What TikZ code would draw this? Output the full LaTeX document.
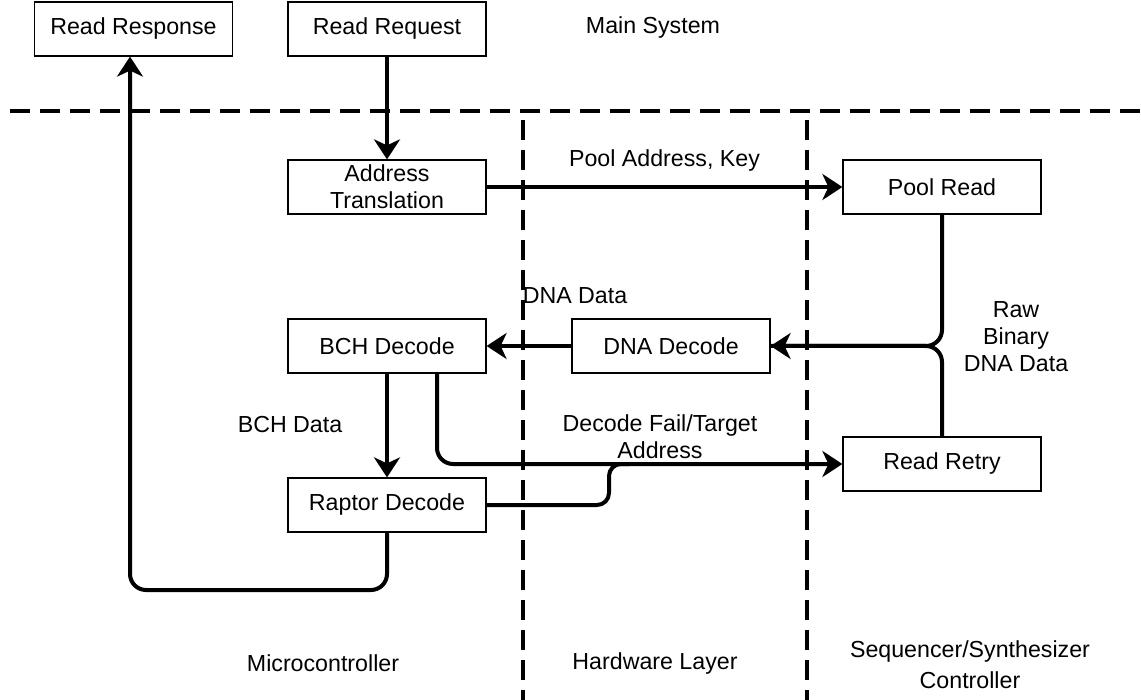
\documentclass[tikz,border=0pt]{standalone}
\usepackage{fontspec}
\setmainfont{Liberation Sans}
\usetikzlibrary{arrows.meta}

\begin{document}
\begin{tikzpicture}[x=0.5pt, y=-0.5pt,
		font=\fontsize{11.6}{13.5}\selectfont,
		box/.style={draw, line width=0.6pt, minimum width=99pt, minimum height=27pt, align=center, inner sep=1pt},
		arr/.style={line width=2pt, -{Stealth[length=10pt, width=13pt, inset=3pt]}},
		wire/.style={line width=2pt},
		sep/.style={line width=2pt, dash pattern=on 10pt off 5pt},
		lbl/.style={align=center, inner sep=0pt}]
		\useasboundingbox (0,0) rectangle (1141,700);
		% layer borders
		\draw[sep] (10,111) -- (1141,111);
		\draw[sep] (523,120) -- (523,700);
		\draw[sep] (807,120) -- (807,700);
		% boxes
		\node[box] (resp) at (133.5,29) {Read Response};
		\node[box] (req) at (387,29) {Read Request};
		\node[box] (addr) at (387,187) {Address\\Translation};
		\node[box] (pool) at (942,187) {Pool Read};
		\node[box] (bch) at (387,346) {BCH Decode};
		\node[box] (dna) at (671,346) {DNA Decode};
		\node[box] (raptor) at (387,505) {Raptor Decode};
		\node[box] (retry) at (942,464) {Read Retry};
		% texts
		\node[lbl] (sys) at (653,28) {Main System};
		\node[lbl] (mcu) at (323,663) {Microcontroller};
		\node[lbl] (hw) at (655,663) {Hardware Layer};
		\node[lbl, font=\fontsize{11.6}{15.5}\selectfont] (seq) at (970,665) {Sequencer/Synthesizer\\Controller};
		\node[lbl] (rawlbl) at (1016,337) {Raw\\Binary\\DNA Data};
		\node[lbl] (dnalbl) at (575,296) {DNA Data};
		\node[lbl] (bchlbl) at (290,425) {BCH Data};
		\node[lbl] (faillbl) at (660,437) {Decode Fail/Target\\Address};
		% connectors
		\draw[arr] (req) -- (addr);
		\draw[arr] (addr) -- node[above=7pt, lbl] {Pool Address, Key} (pool);
		\draw[arr, rounded corners=8pt] (pool.south) |- (dna.east);
		\draw[wire, rounded corners=8pt] (retry.north) |- (dna.east);
		\draw[arr] (dna) -- (bch);
		\draw[arr] (bch) -- (raptor);
		\draw[arr, rounded corners=8pt] ([xshift=25pt]bch.south) |- (retry.west);
		\coordinate (jog) at (609,464);
		\draw[wire, rounded corners=6pt] (raptor.east) -| (jog) -- ++(20,0);
		\coordinate (low) at (130,590);
		\draw[arr, rounded corners=8pt] (raptor.south) |- (low) -- (resp.south -| low);
	\end{tikzpicture}
\end{document}
